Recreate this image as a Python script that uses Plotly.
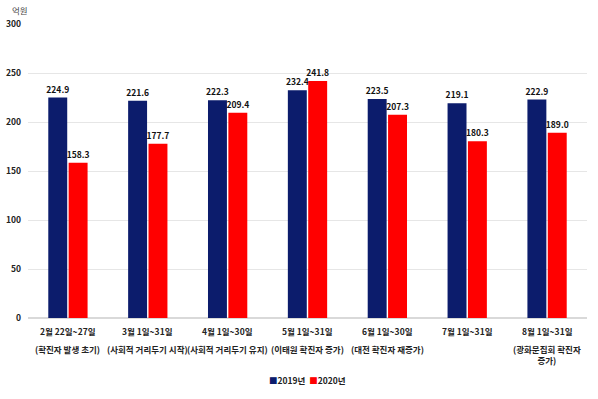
import plotly.graph_objects as go

categories = [
    "2월 22일~27일",
    "3월 1일~31일",
    "4월 1일~30일",
    "5월 1일~31일",
    "6월 1일~30일",
    "7월 1일~31일",
    "8월 1일~31일",
]
subtitles = [
    "(확진자 발생 초기)",
    "(사회적 거리두기 시작)",
    "(사회적 거리두기 유지)",
    "(이태원 확진자 증가)",
    "(대전 확진자 재증가)",
    "",
    "(광화문집회 확진자<br>증가)",
]
values_2019 = [224.9, 221.6, 222.3, 232.4, 223.5, 219.1, 222.9]
values_2020 = [158.3, 177.7, 209.4, 241.8, 207.3, 180.3, 189.0]
y_ticks = [0, 50, 100, 150, 200, 250, 300]
series_names = ["2019년", "2020년"]
series_colors = ["#0c1c6c", "#ff0000"]

font_family = "Noto Sans CJK KR, Noto Sans, sans-serif"

fig = go.Figure()
for name, vals, col in zip(series_names, [values_2019, values_2020], series_colors):
    fig.add_trace(go.Bar(
        name=name, x=categories, y=vals,
        marker=dict(color=col, line=dict(width=0)),
        text=[f"{v:.1f}" for v in vals], textposition="outside",
        textfont=dict(size=8.5, color="#111111", family=font_family, weight="bold"),
        cliponaxis=False, showlegend=False, hoverinfo="skip",
    ))

legend_text = "&nbsp;&nbsp;".join(
    f"<span style='color:{c}'>■</span>{n}" for n, c in zip(series_names, series_colors)
)

annotations = [
    dict(text="억원", x=0, xref="paper", xanchor="left",
         y=1, yref="paper", yanchor="bottom", yshift=6, xshift=-18,
         showarrow=False, font=dict(size=8.5, color="#444444")),
    dict(text=legend_text, x=0.5, xref="paper", xanchor="center",
         y=0, yref="paper", yanchor="middle", yshift=-62,
         showarrow=False, font=dict(size=8.5, color="#222222", weight="bold")),
]
for cat, sub in zip(categories, subtitles):
    annotations.append(dict(text=cat, x=cat, xref="x", xanchor="center",
                            y=0, yref="paper", yanchor="middle", yshift=-13,
                            showarrow=False,
                            font=dict(size=8.5, color="#222222", weight="bold")))
    if sub:
        annotations.append(dict(text=sub, x=cat, xref="x", xanchor="center",
                                y=0, yref="paper", yanchor="top", yshift=-23,
                                showarrow=False,
                                font=dict(size=8.5, color="#222222", weight="bold"),
                                align="center"))

fig.update_layout(
    width=598, height=399,
    margin=dict(l=28, r=11, t=24, b=81, autoexpand=False),
    paper_bgcolor="white", plot_bgcolor="white",
    barmode="group", bargap=0.49, bargroupgap=0.07,
    uniformtext=dict(mode="show", minsize=8),
    font=dict(family=font_family, size=9, color="#222222"),
    showlegend=False,
    xaxis=dict(showticklabels=False, showgrid=False,
               showline=False, ticks="", automargin=False),
    yaxis=dict(range=[0, 300], tickvals=y_ticks, showgrid=True,
               gridcolor="#e6e6e6", gridwidth=1, zeroline=True,
               zerolinecolor="#d9d9d9", tickfont=dict(size=8.5, color="#222222", weight="bold"),
               ticks="", ticklabelstandoff=6, automargin=False),
    annotations=annotations,
)

fig.write_html(
    "out.html",
    config={"displayModeBar": False, "staticPlot": True},
    post_script="document.body.style.margin='0';document.body.style.overflow='hidden';",
)
